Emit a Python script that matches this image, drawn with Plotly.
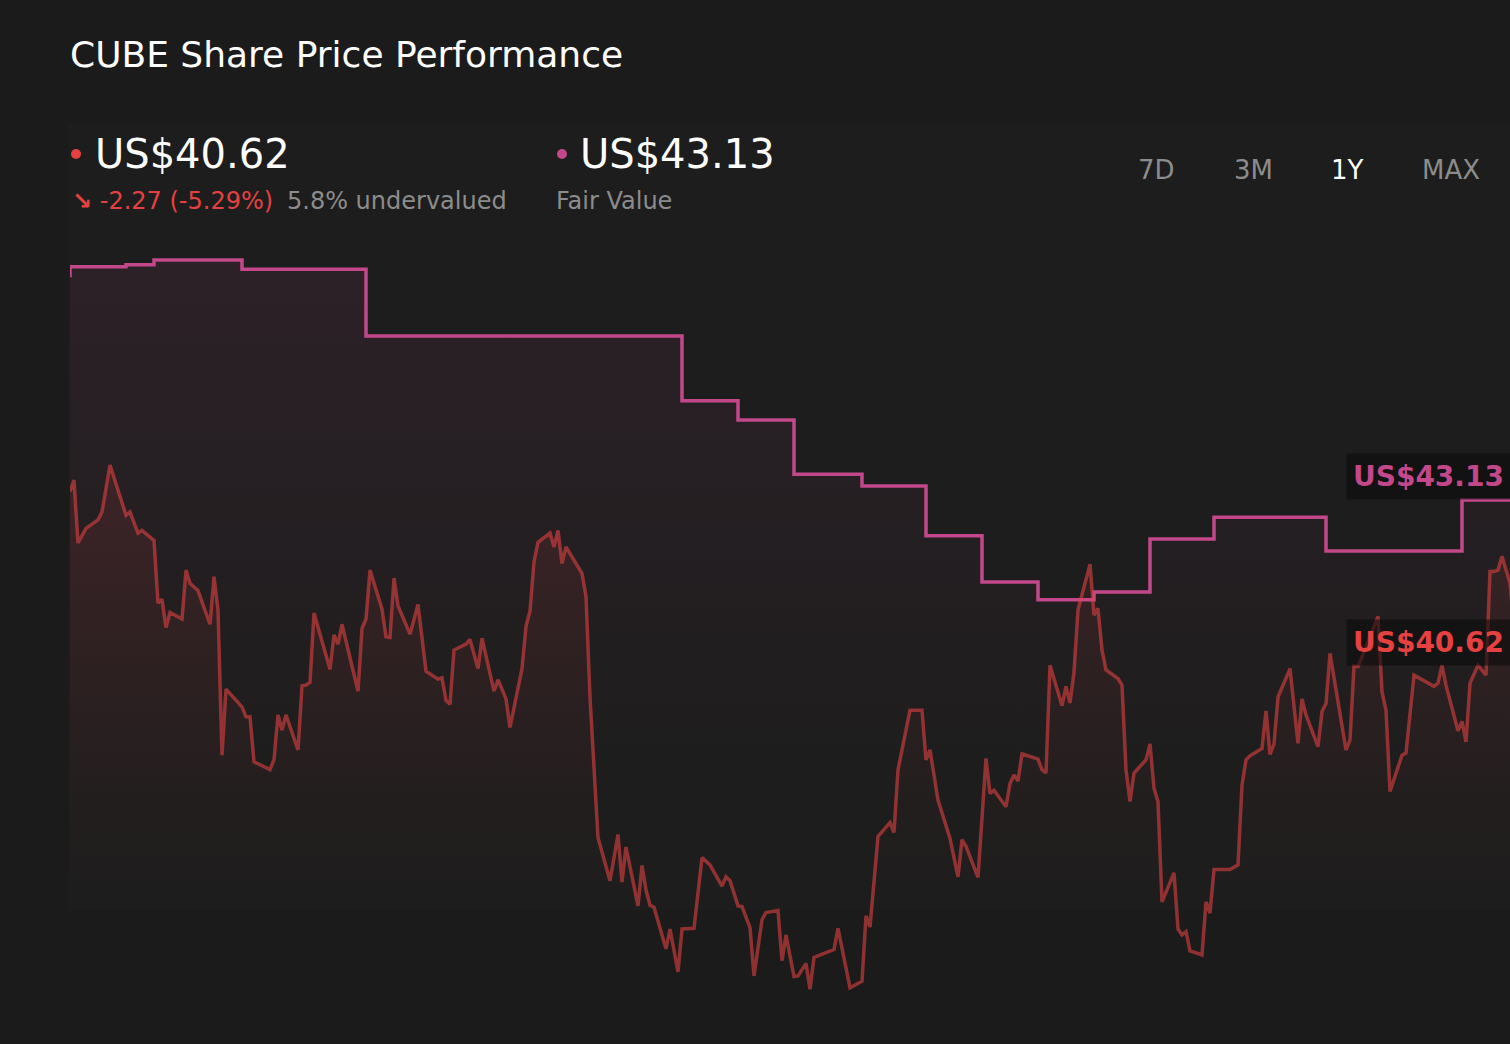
import pandas as pd
import plotly.graph_objects as go

# --- colours ---
BG = "#1b1b1b"
C_WHITE = "#ffffff"
C_GREY = "#8c8c8c"
C_RED = "#e64141"
C_RED_LINE = "rgba(230,65,66,0.58)"
C_PINK = "#c2488b"

# --- data (days from start, USD) ---
START = pd.Timestamp("2024-10-21")

price_day = [
    0, 1, 2, 4, 7, 8, 10, 14, 15, 17,
    18, 21, 22, 23, 24, 25, 28, 29, 30, 32,
    35, 36, 37, 38, 39, 43, 44, 45, 46, 50,
    51, 52, 53, 54, 57, 58, 59, 60, 61, 65,
    66, 67, 68, 72, 73, 74, 75, 78, 79, 80,
    81, 82, 85, 87, 89, 92, 93, 94, 95, 96,
    99, 100, 102, 103, 106, 107, 108, 109, 110, 113,
    114, 115, 116, 117, 120, 121, 122, 123, 124, 128,
    129, 130, 132, 135, 137, 138, 139, 142, 143, 144,
    145, 146, 149, 150, 152, 153, 156, 158, 160, 163,
    164, 165, 167, 168, 170, 171, 173, 174, 177, 178,
    179, 181, 182, 184, 185, 186, 191, 192, 195, 198,
    199, 200, 202, 205, 206, 207, 210, 213, 214, 215,
    217, 220, 222, 223, 224, 227, 229, 230, 231, 234,
    235, 236, 237, 238, 242, 243, 244, 245, 248, 249,
    250, 251, 252, 255, 256, 257, 258, 259, 262, 263,
    264, 265, 266, 269, 270, 271, 272, 273, 276, 277,
    278, 279, 280, 283, 284, 285, 286, 290, 292, 293,
    294, 295, 298, 299, 300, 301, 302, 305, 307, 308,
    309, 312, 313, 314, 315, 319, 320, 321, 322, 327,
    328, 329, 330, 333, 334, 336, 341, 342, 343, 344,
    347, 348, 349, 350, 352, 354, 355, 356, 357, 358,
    360, 362,
]
price_usd = [
    43.26, 43.43, 42.48, 42.70, 42.83, 42.95, 43.66, 42.90, 42.95, 42.63,
    42.67, 42.52, 41.57, 41.63, 41.20, 41.43, 41.33, 42.07, 41.87, 41.76,
    41.25, 41.97, 41.47, 39.27, 40.27, 40.00, 39.85, 39.85, 39.17, 39.05,
    39.20, 39.88, 39.65, 39.88, 39.35, 40.32, 40.33, 40.37, 41.42, 40.57,
    41.09, 40.95, 41.25, 40.24, 41.19, 41.33, 42.07, 41.48, 41.06, 41.05,
    41.95, 41.53, 41.10, 41.55, 40.54, 40.42, 40.44, 40.10, 40.04, 40.86,
    40.95, 41.02, 40.58, 41.04, 40.24, 40.41, 40.27, 40.12, 39.69, 40.58,
    41.22, 41.45, 42.20, 42.49, 42.63, 42.42, 42.67, 42.17, 42.42, 42.02,
    41.67, 40.15, 38.02, 37.37, 38.07, 37.35, 37.88, 36.99, 37.60, 37.23,
    37.00, 36.97, 36.34, 36.64, 35.99, 36.64, 36.65, 37.72, 37.61, 37.29,
    37.43, 37.37, 36.99, 36.98, 36.66, 35.93, 36.78, 36.89, 36.92, 36.16,
    36.55, 35.92, 35.93, 36.12, 35.73, 36.21, 36.33, 36.65, 35.75, 35.85,
    36.84, 36.67, 38.04, 38.25, 38.10, 39.05, 39.95, 39.95, 39.20, 39.35,
    38.59, 38.01, 37.43, 37.99, 37.89, 37.42, 39.22, 38.69, 38.74, 38.49,
    38.84, 38.97, 38.88, 39.29, 39.21, 39.05, 39.00, 40.63, 40.02, 40.31,
    40.06, 40.53, 41.47, 42.16, 41.39, 41.49, 40.86, 40.56, 40.43, 40.33,
    39.05, 38.57, 39.00, 39.20, 39.44, 38.77, 38.57, 37.05, 37.49, 36.64,
    36.55, 36.60, 36.31, 36.25, 37.05, 36.88, 37.54, 37.54, 37.61, 38.82,
    39.20, 39.26, 39.37, 39.94, 39.28, 39.44, 40.15, 40.58, 39.45, 40.12,
    39.88, 39.40, 39.93, 40.05, 40.81, 39.35, 39.50, 40.62, 40.61, 41.37,
    40.23, 39.95, 38.72, 39.27, 39.30, 40.48, 40.31, 40.36, 40.63, 40.33,
    39.64, 39.78, 39.47, 40.36, 40.63, 40.48, 42.05, 42.05, 42.07, 42.28,
    41.87, 40.62,
]

fv_day = [0, 0, 14, 21, 43, 74, 153, 167, 181, 198, 214, 228, 242, 256, 270, 286, 314, 348, 362]
fv_usd = [46.50, 46.66, 46.69, 46.76, 46.62, 45.61, 44.63, 44.34, 43.52, 43.34,
          42.59, 41.89, 41.62, 41.74, 42.54, 42.87, 42.36, 43.13, 43.13]

last_price = 40.62
fair_value = 43.13
change_abs = -2.27
change_pct = -5.29
undervalued_pct = 5.8
periods = ["7D", "3M", "1Y", "MAX"]
active_period = "1Y"

price_x = START + pd.to_timedelta(price_day, unit="D")
fv_x = START + pd.to_timedelta(fv_day, unit="D")

# --- page geometry ---
W, H = 1510, 1044
M_L, M_T, M_B = 70, 110, 30


def px_x(x):
    return (x - M_L) / (W - M_L)


def px_y(y):
    return (H - M_B - y) / (H - M_T - M_B)


fig = go.Figure()

# fair value step line
fig.add_trace(go.Scatter(
    x=fv_x, y=fv_usd, mode="lines", line=dict(color=C_PINK, width=3.5, shape="hv"),
    fill="tozeroy",
    fillgradient=dict(type="vertical", start=38.6, stop=46.8,
                      colorscale=[[0, "rgba(194,72,139,0)"], [1, "rgba(194,72,139,0.09)"]]),
    hoverinfo="skip"))

# share price
fig.add_trace(go.Scatter(
    x=price_x, y=price_usd, mode="lines", line=dict(color=C_RED_LINE, width=3.5),
    fill="tozeroy",
    fillgradient=dict(type="vertical", start=36.9, stop=43.7,
                      colorscale=[[0, "rgba(230,65,66,0)"], [1, "rgba(230,65,66,0.12)"]]),
    hoverinfo="skip"))

ann = []
# header texts
ann.append(dict(x=px_x(68), y=px_y(55), text="CUBE Share Price Performance",
                font=dict(size=36, color=C_WHITE)))
ann.append(dict(x=px_x(93), y=px_y(154), text=f"US${last_price:.2f}",
                font=dict(size=40, color=C_WHITE)))
ann.append(dict(x=px_x(70), y=px_y(201), text=f"<b>↘</b> {change_abs:.2f} ({change_pct:.2f}%)",
                font=dict(size=24, color=C_RED)))
ann.append(dict(x=px_x(285), y=px_y(201), text=f"{undervalued_pct}% undervalued",
                font=dict(size=24, color=C_GREY)))
ann.append(dict(x=px_x(578), y=px_y(154), text=f"US${fair_value:.2f}",
                font=dict(size=40, color=C_WHITE)))
ann.append(dict(x=px_x(554), y=px_y(201), text="Fair Value",
                font=dict(size=24, color=C_GREY)))
for a in ann:
    a.update(xref="paper", yref="paper", xanchor="left", yanchor="middle", showarrow=False)

# period buttons
for p, cx in zip(periods, [1156, 1253, 1347, 1451]):
    ann.append(dict(x=px_x(cx), y=px_y(170), xref="paper", yref="paper", text=p,
                    xanchor="center", yanchor="middle", showarrow=False,
                    font=dict(size=26, color=C_WHITE if p == active_period else C_GREY)))

# value tags at the right
for val, col in [(fair_value, C_PINK), (last_price, C_RED)]:
    ann.append(dict(x=px_x(1346), y=val, xref="paper", yref="y", text=f"<b>US${val:.2f}</b>",
                    xanchor="left", yanchor="bottom", showarrow=False,
                    font=dict(size=28, color=col), bgcolor="rgba(12,12,12,0.6)", borderpad=6))

shapes = [
    dict(type="rect", xref="paper", yref="paper", x0=px_x(68), x1=1, y0=px_y(910), y1=px_y(123),
         fillcolor="rgba(255,220,230,0.012)", line=dict(width=0), layer="below"),
    dict(type="circle", xref="paper", yref="paper", x0=px_x(71), x1=px_x(81),
         y0=px_y(159), y1=px_y(149), fillcolor=C_RED, line=dict(width=0)),
    dict(type="circle", xref="paper", yref="paper", x0=px_x(557), x1=px_x(567),
         y0=px_y(159), y1=px_y(149), fillcolor=C_PINK, line=dict(width=0)),
]

fig.update_layout(
    width=W, height=H,
    margin=dict(l=M_L, r=0, t=M_T, b=M_B),
    paper_bgcolor=BG, plot_bgcolor=BG,
    font=dict(family="DejaVu Sans", color=C_WHITE),
    showlegend=False, hovermode=False,
    xaxis=dict(visible=False, range=[START, START + pd.Timedelta(days=360)]),
    yaxis=dict(visible=False, range=[35.354, 49.03]),
    annotations=ann, shapes=shapes,
)

fig.write_html("out.html", config={"displayModeBar": False},
               post_script="document.body.style.margin='0';document.body.style.background='" + BG + "';")
